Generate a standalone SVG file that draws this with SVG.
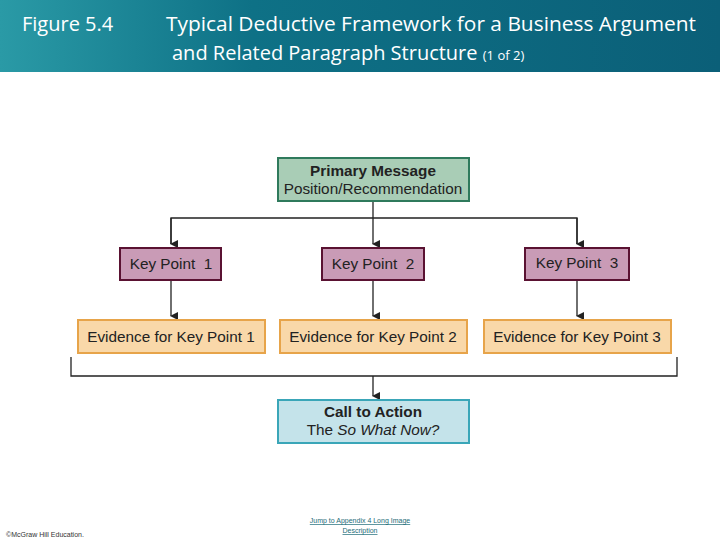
<svg xmlns="http://www.w3.org/2000/svg" width="720" height="540" viewBox="0 0 720 540">
<defs>
<linearGradient id="hdr" x1="0" y1="0" x2="1" y2="0">
<stop offset="0" stop-color="#2a9aa6"/><stop offset="0.35" stop-color="#0e7186"/><stop offset="1" stop-color="#0b5f78"/>
</linearGradient>
<marker id="arr" markerWidth="8" markerHeight="8" refX="4" refY="7" orient="auto" markerUnits="userSpaceOnUse">
<path d="M0,0 L8,0 L4,8 z" fill="#222"/>
</marker>
<style>
.t{font-family:"Liberation Sans",Arial,sans-serif;font-size:15.3px;fill:#222;text-anchor:middle}
.h{font-family:"Open Sans","Liberation Sans",sans-serif;fill:#fff}
.ln{stroke:#222;stroke-width:1.3;fill:none}
.kp rect{fill:#c99bb6;stroke:#5a1232;stroke-width:2}
.ev rect{fill:#f9d8a9;stroke:#e7a44a;stroke-width:2}
</style>
</defs>
<rect x="0" y="0" width="720" height="72" fill="url(#hdr)"/>
<text class="h" x="22" y="31" font-size="20">Figure 5.4</text>
<text class="h" x="166" y="31" font-size="20" textLength="530" lengthAdjust="spacingAndGlyphs">Typical Deductive Framework for a Business Argument</text>
<text class="h" x="172" y="60" font-size="20">and Related Paragraph Structure <tspan font-size="13">(1 of 2)</tspan></text>
<g id="connectors">
<path class="ln" d="M373,201 V244" marker-end="url(#arr)"/>
<path class="ln" d="M171,244 V218 H577 V244"/>
<path class="ln" d="M171,218 V244" marker-end="url(#arr)"/>
<path class="ln" d="M577,218 V244" marker-end="url(#arr)"/>
<path class="ln" d="M171,280 V316" marker-end="url(#arr)"/>
<path class="ln" d="M373,280 V316" marker-end="url(#arr)"/>
<path class="ln" d="M577,280 V316" marker-end="url(#arr)"/>
<path class="ln" d="M71,357 V376 H677 V357"/>
<path class="ln" d="M373,376 V396" marker-end="url(#arr)"/>
</g>
<g id="primary"><rect x="278" y="158" width="191" height="43" fill="#a9cdb6" stroke="#2f7a5c" stroke-width="2"/>
<text class="t" x="373" y="176" font-weight="bold">Primary Message</text>
<text class="t" x="373" y="194">Position/Recommendation</text></g>
<g id="kp1" class="kp"><rect x="120" y="248" width="101" height="32"/><text class="t" x="171" y="269" xml:space="preserve">Key Point  1</text></g>
<g id="kp2" class="kp"><rect x="322" y="248" width="102" height="32"/><text class="t" x="373" y="269" xml:space="preserve">Key Point  2</text></g>
<g id="kp3" class="kp"><rect x="525" y="248" width="104" height="32"/><text class="t" x="577" y="268" xml:space="preserve">Key Point  3</text></g>
<g id="ev1" class="ev"><rect x="78" y="320" width="187" height="33"/><text class="t" x="171" y="342">Evidence for Key Point 1</text></g>
<g id="ev2" class="ev"><rect x="280" y="320" width="187" height="33"/><text class="t" x="373" y="342">Evidence for Key Point 2</text></g>
<g id="ev3" class="ev"><rect x="484" y="320" width="187" height="33"/><text class="t" x="577" y="342">Evidence for Key Point 3</text></g>
<g id="cta"><rect x="278" y="400" width="191" height="43" fill="#c4e3ea" stroke="#3aa6b8" stroke-width="2"/>
<text class="t" x="373" y="417" font-weight="bold">Call to Action</text>
<text class="t" x="373" y="435">The <tspan font-style="italic">So What Now?</tspan></text></g>
<text x="6" y="537" font-family="Liberation Sans,sans-serif" font-size="7" fill="#333">©McGraw Hill Education.</text>
<text x="360" y="523" font-family="Liberation Sans,sans-serif" font-size="7" fill="#1c6b78" text-anchor="middle" text-decoration="underline">Jump to Appendix 4 Long Image</text>
<text x="360" y="533" font-family="Liberation Sans,sans-serif" font-size="7" fill="#1c6b78" text-anchor="middle" text-decoration="underline">Description</text>
</svg>
